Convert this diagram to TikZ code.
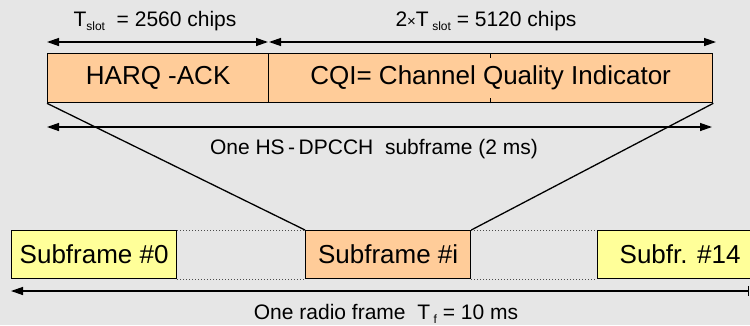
\documentclass[tikz,border=0pt]{standalone}
\usepackage{fontspec}
\setmainfont{Liberation Sans}
\usetikzlibrary{arrows.meta}
\definecolor{bg}{HTML}{E6E6E6}
\definecolor{peach}{HTML}{FFCC99}
\definecolor{pale}{HTML}{FFFF99}
\newcommand{\subtxt}[1]{\raisebox{-4pt}{\fontsize{12}{12}\selectfont #1}}
\begin{document}
\begin{tikzpicture}[x=1pt,y=-1pt,
  box/.style={draw=black, line width=1.3pt, minimum height=49pt, inner sep=0pt, anchor=north west, font=\fontsize{26}{26}\selectfont},
  tip/.style={},
  dim/.style={line width=1.3pt, {Triangle[length=12pt,width=8pt]}-{Triangle[length=12pt,width=8pt]}},
  lbl/.style={font=\fontsize{21}{21}\selectfont, inner sep=0pt},
  dots/.style={dotted, line width=1pt, black!70},
  edge/.style={line width=1.3pt}]
\useasboundingbox (0,0) rectangle (750,325);
\fill[bg] (0,0) rectangle (750,325);
\clip (0,0) rectangle (750,325);

% top subframe
\node[box, fill=peach, minimum width=221pt] (harq) at (47,53) {HARQ -ACK};
\node[box, fill=peach, minimum width=444pt] (cqi) at (268,53) {CQI= Channel Quality Indicator};
\draw[edge] (cqi.north) -- ++(0,5);
\draw[edge] (cqi.south) -- ++(0,-5);

% radio frame subframes
\node[box, fill=pale, minimum width=165pt, minimum height=48pt] (sf0) at (11,230) {Subframe \#0};
\node[box, fill=peach, minimum width=165pt, minimum height=48pt] (sfi) at (305,230) {Subframe \#i};
\node[box, fill=pale, minimum width=165pt, minimum height=48pt] (sf14) at (597,230) {Subfr. \#14};

\draw[dots] (sf0.north east) -- (sfi.north west);
\draw[dots] (sf0.south east) -- (sfi.south west);
\draw[dots] (sfi.north east) -- (sf14.north west);
\draw[dots] (sfi.south east) -- (sf14.south west);

% zoom lines
\draw[edge] (harq.south west) -- (sfi.north west);
\draw[edge] (cqi.south east) -- (sfi.north east);

% dimension arrows
\coordinate (a1) at (47,42);
\coordinate (a2) at (268,42);
\coordinate (a3) at (269,42);
\coordinate (a4) at (716,42);
\draw[dim] (a1) -- (a2);
\draw[dim] (a3) -- (a4);
\coordinate (b1) at (47,127);
\coordinate (b2) at (712,127);
\draw[dim] (b1) -- (b2);
\coordinate (c1) at (11,291);
\coordinate (c2) at (749,291);
\draw[line width=1.3pt, {Triangle[length=12pt,width=8pt]}-{Bar[width=10pt]}] (c1) -- (c2);

% labels
\node[lbl] (t1) at (155,21) {T\subtxt{slot}\ \ = 2560 chips};
\node[lbl] (t2) at (486,21) {2{\fontsize{15}{15}\selectfont ×}T\,\subtxt{slot} = 5120 chips};
\node[lbl] (t3) at (374,149) {One HS\,-\,DPCCH\ \ subframe (2 ms)};
\node[lbl] (t4) at (386,314) {One radio frame\ \ T\,\subtxt{f} = 10 ms};
\end{tikzpicture}
\end{document}
